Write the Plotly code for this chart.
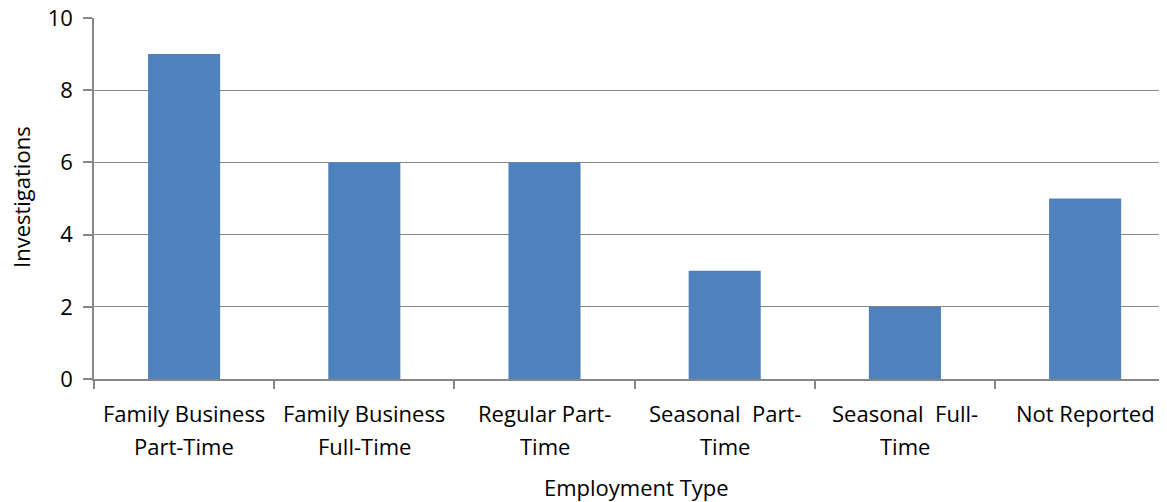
import plotly.graph_objects as go

categories = ["Family Business\nPart-Time", "Family Business\nFull-Time", "Regular Part-\nTime",
              "Seasonal\u00a0\u00a0Part-\nTime", "Seasonal\u00a0\u00a0Full-\nTime", "Not Reported"]
values = [9, 6, 6, 3, 2, 5]
y_ticks = [0, 2, 4, 6, 8, 10]

FONT = "Open Sans, Calibri, Carlito, sans-serif"
GRID = "#868686"
FS = 22

# page has an 8px body margin: figure is drawn at (8, 8)
OFF = 8
W, H = 1167 - OFF, 502 - OFF
AXIS_X = 94                      # page x of the y axis
L, R, T, B = AXIS_X - OFF, 0, 18 - OFF, 123
plot_w = W - L - R
plot_h = H - T - B
CAT_W = 180.2                    # pixel width of one category (plot runs past the right edge)
x_range = [-0.5, -0.5 + plot_w / CAT_W]

fig = go.Figure(go.Bar(x=list(range(len(categories))), y=values,
                       marker=dict(color="#4F81BD", line=dict(width=0))))

# category labels as two-line annotations (to match the wider line spacing)
for idx, cat in enumerate(categories):
    for i, ln in enumerate(cat.split("\n")):
        fig.add_annotation(x=idx, xref="x", y=-(34 + 33 * i) / plot_h, yref="paper",
                           text=ln, showarrow=False,
                           font=dict(family=FONT, size=FS, color="black"),
                           xanchor="center", yanchor="middle")

fig.add_annotation(text="Employment Type", xref="paper", yref="paper", x=(636 - AXIS_X) / plot_w,
                   y=-(487 - 379) / plot_h,
                   showarrow=False, font=dict(family=FONT, size=FS, color="black"),
                   xanchor="center", yanchor="middle")
fig.add_annotation(text="Investigations", xref="paper", yref="paper", x=-(AXIS_X - 21) / plot_w,
                   y=(379 - 197) / plot_h, textangle=-90, showarrow=False,
                   font=dict(family=FONT, size=FS, color="black"),
                   xanchor="center", yanchor="middle")

fig.update_layout(
    width=W, height=H,
    margin=dict(l=L, r=R, t=T, b=B),
    paper_bgcolor="white", plot_bgcolor="white",
    bargap=0.6,
    font=dict(family=FONT, size=FS, color="black"),
    showlegend=False,
)

fig.update_xaxes(
    type="linear", range=x_range,
    tickmode="array", tickvals=[i + 0.5 for i in range(len(categories) - 1)] + [-0.5],
    showline=True, linecolor=GRID, linewidth=1.5,
    ticks="outside", ticklen=8, tickcolor=GRID, tickwidth=1.5,
    showgrid=False, showticklabels=False, automargin=False, zeroline=False,
)
fig.update_yaxes(
    range=[0, 10], tickvals=y_ticks,
    showline=True, linecolor=GRID, linewidth=1.5,
    ticks="outside", ticklen=9, tickcolor=GRID, tickwidth=1.5,
    showgrid=True, gridcolor=GRID, gridwidth=1.2,
    zeroline=False, automargin=False,
    ticklabelstandoff=6, ticklabeloverflow="allow",
    tickfont=dict(size=FS),
)

fig.write_html("out.html")
